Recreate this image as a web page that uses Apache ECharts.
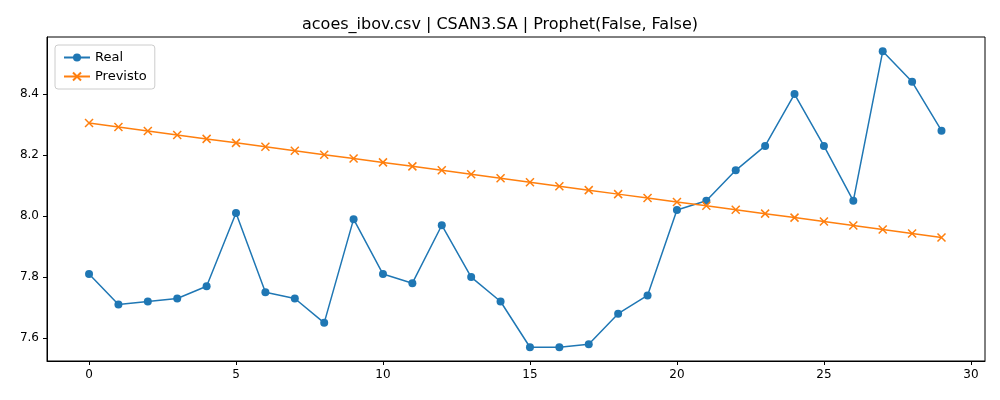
<!DOCTYPE html>
<html><head><meta charset="utf-8">
<script src="https://cdn.jsdelivr.net/npm/echarts@6/dist/echarts.min.js"></script>
<style>html,body{margin:0;padding:0;background:#fff}#c{width:1000px;height:400px}</style>
</head><body><div id="c"></div>
<script>
const xIdx = [0,1,2,3,4,5,6,7,8,9,10,11,12,13,14,15,16,17,18,19,20,21,22,23,24,25,26,27,28,29];
const real = [7.81,7.71,7.72,7.73,7.77,8.01,7.75,7.73,7.65,7.99,7.81,7.78,7.97,7.80,7.72,7.57,7.57,7.58,7.68,7.74,8.02,8.05,8.15,8.23,8.40,8.23,8.05,8.54,8.44,8.28];
const previsto = [8.305,8.292,8.279,8.266,8.253,8.240,8.227,8.214,8.201,8.189,8.176,8.163,8.150,8.137,8.124,8.111,8.098,8.085,8.072,8.059,8.046,8.034,8.021,8.008,7.995,7.982,7.969,7.956,7.943,7.930];
const xTicks = [0,5,10,15,20,25,30];
const yTicks = [7.6,7.8,8.0,8.2,8.4];
const font = 'DejaVu Sans';
const chart = echarts.init(document.getElementById('c'));
chart.setOption({
  animation:false,
  textStyle:{fontFamily:font},
  title:{text:'acoes_ibov.csv | CSAN3.SA | Prophet(False, False)',left:'center',top:12,textStyle:{fontFamily:font,fontSize:16,fontWeight:'normal',color:'#000'}},
  legend:{left:55,top:45,orient:'vertical',itemGap:6,padding:[6,8],borderColor:'#ccc',borderWidth:1,borderRadius:3,textStyle:{fontFamily:font,fontSize:13,color:'#000'},itemWidth:26,itemHeight:10,
    data:['Real','Previsto']},
  grid:{left:47,right:15,top:37,bottom:39},
  xAxis:{type:'value',min:-1.43,max:30.48,
    axisLine:{show:true,onZero:false,lineStyle:{color:'#000'}},
    axisTick:{show:true,customValues:xTicks,lineStyle:{color:'#000'},length:4},
    axisLabel:{customValues:xTicks,color:'#000',fontSize:12,fontFamily:font},
    splitLine:{show:false}},
  yAxis:{type:'value',min:7.525,max:8.587,
    axisLine:{show:true,onZero:false,lineStyle:{color:'#000'}},
    axisTick:{show:true,customValues:yTicks,lineStyle:{color:'#000'},length:4},
    axisLabel:{customValues:yTicks,color:'#000',fontSize:12,fontFamily:font,formatter:v=>v.toFixed(1)},
    splitLine:{show:false}},
  series:[
    {name:'Real',type:'line',data:xIdx.map((x,i)=>[x,real[i]]),symbol:'circle',symbolSize:8,lineStyle:{color:'#1f77b4',width:1.5},itemStyle:{color:'#1f77b4'}},
    {name:'Previsto',type:'line',data:xIdx.map((x,i)=>[x,previsto[i]]),symbol:'path://M0,0L1,1M1,0L0,1',symbolSize:8,lineStyle:{color:'#ff7f0e',width:1.5},itemStyle:{color:'#ff7f0e',borderColor:'#ff7f0e',borderWidth:1.5}}
  ],
  graphic:[{type:'rect',shape:{x:47,y:37,width:938,height:324},style:{fill:'none',stroke:'#000',lineWidth:1},silent:true}]
});
</script></body></html>
